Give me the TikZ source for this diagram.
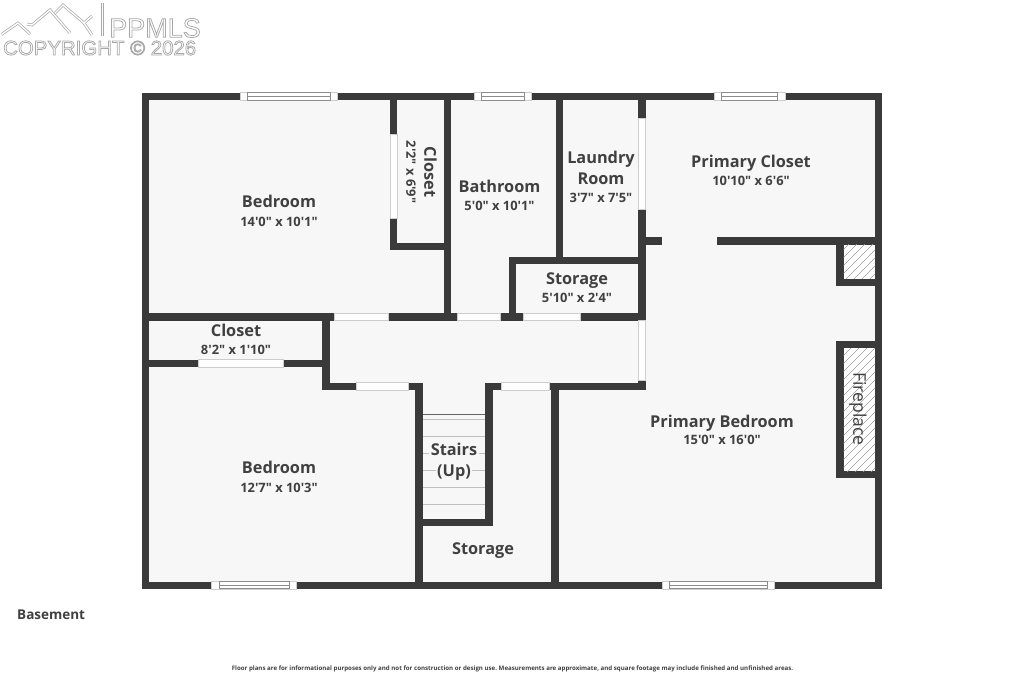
\documentclass[tikz,border=0pt]{standalone}
\usepackage{fontspec}
\setmainfont{Open Sans}[Ligatures=TeXOff]
\newfontfamily\logofont{Liberation Sans}
\definecolor{wallc}{HTML}{3A3A3A}
\definecolor{floorc}{HTML}{F7F7F7}
\definecolor{inkc}{HTML}{404040}
\definecolor{edgec}{HTML}{CDCDCD}
\definecolor{logoc}{HTML}{A8A8A8}
\newcommand{\wl}[4]{\fill[wallfill] (#1,#2) rectangle (#3,#4);}
\newcommand{\glazedH}[5]{% x1 x2 innerx1 innerx2 ycentre
  \draw[gapline] (#1,#5-3.8) rectangle (#2,#5+3.8);
  \draw[winline] (#3,#5-3.8) rectangle (#4,#5+3.8);
  \draw[winline] (#3,#5) -- (#4,#5);}
\newcommand{\gapH}[3]{\draw[gapline] (#1,#3-3.6) rectangle (#2,#3+3.6);}
\newcommand{\gapV}[3]{\draw[gapline] (#3-3.6,#1) rectangle (#3+3.6,#2);}
\newcommand{\outlinetext}{\special{pdf:code q 1 Tr 0.75 w 0.66 0.66 0.66 RG}}
\tikzset{
  wallfill/.style={fill=wallc},
  winline/.style={draw=black!45,line width=0.8pt,fill=white},
  gapline/.style={draw=edgec,line width=0.6pt,fill=white},
  hatchline/.style={draw=black!38,line width=0.45pt},
  riser/.style={draw=black!25,line width=0.8pt},
  roomname/.style={font=\bfseries\fontsize{16.3}{18}\selectfont,text=inkc,inner sep=0pt},
  roomsize/.style={font=\bfseries\fontsize{12.9}{14}\selectfont,text=inkc,inner sep=0pt},
  namebase/.style={roomname,anchor=base},
  sizebase/.style={roomsize,anchor=base},
  logoline/.style={draw=logoc,line width=2.8pt,line join=miter},
  logoinner/.style={draw=white,line width=1.4pt,line join=miter},
}
\begin{document}
\frenchspacing
\begin{tikzpicture}[x=1pt,y=-1pt]
\useasboundingbox (0,0) rectangle (1024,682);
\fill[white] (0,0) rectangle (1024,682);
% floor
\fill[floorc] (145,97) rectangle (878,585);
% logo
\foreach \st in {logoline,logoinner}{
  \draw[\st] (1.5,34.5) -- (18,23) -- (30,34);
  \draw[\st] (27,24) -- (32,25) -- (50,10) -- (70,33);
  \draw[\st] (55,13) -- (63,5) -- (84,23) -- (92,16);
  \draw[\st] (84,23) -- (92,35);
  \draw[\st] (102.5,3) -- (102.5,36);
}
\node[inner sep=0pt,anchor=west,font=\logofont\fontsize{27}{28}\selectfont] (logoa) at (109,28) {\outlinetext PPMLS\special{pdf:code Q}};
\node[inner sep=0pt,anchor=west,font=\logofont\fontsize{20.4}{21}\selectfont] (logob) at (3,48) {\outlinetext COPYRIGHT © 2026\special{pdf:code Q}};
% outer walls
\wl{142}{93}{882}{100}
\wl{142}{581.5}{882}{588.5}
\wl{142}{93}{149}{588.5}
\wl{875}{93}{882}{588.5}
% closet upper
\wl{390}{100}{397}{250}
\wl{390}{242.5}{451}{250}
\wl{444}{100}{451}{320}
% laundry and storage
\wl{556}{100}{563}{264}
\wl{508.5}{257}{645.5}{264}
\wl{508.5}{257}{516}{320}
\wl{638}{100}{645.5}{320}
% primary closet wall
\wl{645}{237}{662}{244.5}
\wl{717}{237}{882}{244.5}
\wl{836}{237}{843.5}{286}
\wl{836}{278.5}{882}{286}
% mid horizontal
\wl{142}{313}{645.5}{320.5}
\wl{322}{313}{329.5}{390}
\wl{142}{359.5}{329}{367}
% hall lower
\wl{322}{382.5}{422}{390}
\wl{485}{382.5}{645.5}{390}
\wl{638}{380}{645.5}{390}
\wl{415}{382.5}{422.5}{588}
\wl{485}{382.5}{492.5}{526}
\wl{415}{518.5}{492.5}{526}
\wl{551}{382.5}{558.5}{588}
% fireplace
\wl{836}{341}{882}{348}
\wl{836}{471}{882}{478}
\wl{836}{341}{843.5}{478}
% gaps
\gapV{134}{218}{393.5}
\gapV{118}{209.5}{641.8}
\gapV{320.5}{380}{641.8}
\gapH{334}{388}{316.8}
\gapH{457}{500}{316.8}
\gapH{523}{580}{316.8}
\gapH{198.5}{283.5}{363.2}
\gapH{356}{408.5}{386.2}
\gapH{501}{549}{386.2}
% windows
\glazedH{240}{337}{247}{330}{96.5}
\glazedH{474.5}{531}{481.5}{524}{96.5}
\glazedH{714}{785.5}{721.5}{777.5}{96.5}
\glazedH{211.5}{296.5}{219}{289}{585}
\glazedH{662}{774}{669}{767}{585}
% hatching
\begin{scope}
  \clip (843.5,244.5) rectangle (875,278.5);
  \fill[white] (843.5,244.5) rectangle (875,278.5);
  \foreach \k in {0,...,11}{\draw[hatchline] (800+\k*8,285) -- (800+\k*8+45,240);}
\end{scope}
\begin{scope}
  \clip (843.5,348) rectangle (875,471);
  \fill[white] (843.5,348) rectangle (875,471);
  \foreach \k in {0,...,26}{\draw[hatchline] (700+\k*8,475) -- (700+\k*8+130,345);}
\end{scope}
% stairs
\draw[draw=black!60,line width=0.9pt] (422.5,414.5) -- (485,414.5);
\foreach \yy in {419,436.7,453.7,470.7,487.7,504.7}{\draw[riser] (422.5,\yy) -- (485,\yy);}
% labels
\node[namebase] (bedA) at (279,207) {Bedroom};
\node[sizebase] (bedAs) at (279,226) {14'0" x 10'1"};
\node[roomname,rotate=-90] (cloA) at (430.5,172) {Closet};
\node[roomsize,rotate=-90] (cloAs) at (411,172) {2'2" x 6'9"};
\node[namebase] (bath) at (499.5,192) {Bathroom};
\node[sizebase] (baths) at (499.5,210) {5'0" x 10'1"};
\node[namebase] (launA) at (601,163) {Laundry};
\node[namebase] (launB) at (601,184) {Room};
\node[sizebase] (launs) at (601,202) {3'7" x 7'5"};
\node[namebase] (stoA) at (577,284) {Storage};
\node[sizebase] (stoAs) at (577,302) {5'10" x 2'4"};
\node[namebase] (pc) at (751,167.5) {Primary Closet};
\node[sizebase] (pcs) at (751,185) {10'10" x 6'6"};
\node[namebase] (cloB) at (236,336) {Closet};
\node[sizebase] (cloBs) at (236,354) {8'2" x 1'10"};
\node[namebase] (bedB) at (279,473.5) {Bedroom};
\node[sizebase] (bedBs) at (279,492) {12'7" x 10'3"};
\node[namebase,fill=floorc,inner xsep=1.5pt,inner ysep=0pt] (stA) at (454,455.5) {Stairs};
\node[namebase,fill=floorc,inner xsep=1.5pt,inner ysep=0pt] (stB) at (454,476.5) {(Up)};
\node[namebase] (stoB) at (483,554) {Storage};
\node[namebase] (pb) at (722,427) {Primary Bedroom};
\node[sizebase] (pbs) at (722,444.5) {15'0" x 16'0"};
\node[rotate=-90,inner sep=0pt,text=inkc,font=\fontsize{17.5}{19}\selectfont] (fire) at (858,409) {Fireplace};
\node[inner sep=0pt,anchor=west,text=inkc,font=\bfseries\fontsize{13.5}{15}\selectfont] (base) at (17,614.5) {Basement};
\node[inner sep=0pt,text=inkc,font=\bfseries\fontsize{6.15}{7}\selectfont] (foot) at (512.5,668.5) {Floor plans are for informational purposes only and not for construction or design use. Measurements are approximate, and square footage may include finished and unfinished areas.};
\end{tikzpicture}
\end{document}
